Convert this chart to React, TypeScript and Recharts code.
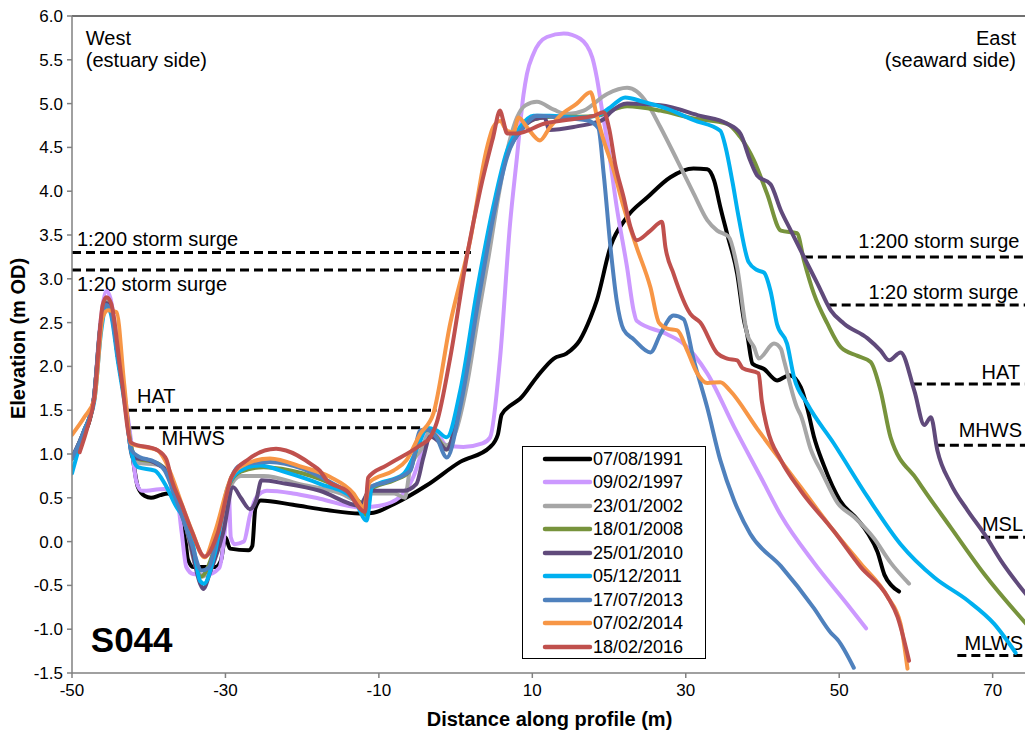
import React from 'react';
import {
  LineChart,
  Line,
  XAxis,
  YAxis,
  ReferenceLine,
  ReferenceDot,
  Legend,
} from 'recharts';

type Pt = [number, number];

const FONT = "'Liberation Sans', Arial, Helvetica, sans-serif";

// Axis ticks
const xTicks = [-50, -30, -10, 10, 30, 50, 70];
const yTicks = [-1.5, -1, -0.5, 0, 0.5, 1, 1.5, 2, 2.5, 3, 3.5, 4, 4.5, 5, 5.5, 6];

// Survey profiles: [distance along profile (m), elevation (m OD)]
const s1991: Pt[] = [
  [-50, 0.95], [-48.5, 1.2], [-47.2, 1.6], [-46.3, 2.4], [-45.6, 2.75], [-45.0, 2.7], [-44.0, 2.1],
  [-43.0, 1.55], [-42.3, 1.1], [-41.4, 0.62], [-40.5, 0.52], [-39.7, 0.5], [-38.5, 0.53], [-37.5, 0.55],
  [-36.3, 0.45], [-35.4, 0.2], [-34.9, -0.2], [-34.2, -0.29], [-31.3, -0.29], [-30.6, -0.22], [-30.0, 0.05],
  [-29.4, -0.08], [-27.0, -0.1], [-26.5, -0.05], [-26.1, 0.38], [-25.4, 0.47], [-21.2, 0.42], [-16.8, 0.36],
  [-12.5, 0.32], [-10.7, 0.33], [-8.0, 0.43], [-3.8, 0.64], [0.6, 0.91], [4.5, 1.08], [5.5, 1.22], [6.0, 1.45],
  [7.1, 1.55], [8.4, 1.63], [10.6, 1.88], [12.8, 2.09], [14.5, 2.15], [16.2, 2.3], [17.6, 2.56], [18.4, 2.75],
  [20.2, 3.37], [22.3, 3.7], [25.0, 3.93], [28.0, 4.16], [31.0, 4.26], [32.8, 4.25], [33.7, 4.12], [34.5, 3.82],
  [35.4, 3.51], [36.7, 3.06], [37.6, 2.52], [38.0, 2.37], [38.7, 2.03], [40.2, 1.97], [41.9, 1.84], [43.5, 1.9],
  [45.0, 1.76], [45.85, 1.52], [46.7, 1.2], [48.0, 0.87], [50.1, 0.47], [52.4, 0.25], [53.7, 0.1], [55.0, -0.12],
  [55.9, -0.38], [56.8, -0.5], [57.8, -0.57],
];

const s1997: Pt[] = [
  [-50, 0.95], [-48.5, 1.25], [-47.2, 1.62], [-46.3, 2.5], [-45.5, 2.86], [-45.0, 2.78], [-44.0, 2.2],
  [-43.0, 1.6], [-42.3, 1.15], [-41.6, 0.68], [-40.9, 0.58], [-38.0, 0.6], [-37.0, 0.6], [-36.3, 0.5],
  [-35.7, 0.1], [-35.1, -0.29], [-34.2, -0.37], [-32.5, -0.38], [-30.8, -0.3], [-30.0, 0.2], [-29.6, 0.64],
  [-29.3, 0.05], [-28.8, -0.03], [-27.6, 0.0], [-26.8, 0.3], [-26.0, 0.5], [-24.6, 0.58], [-21.2, 0.55],
  [-17.7, 0.49], [-12.5, 0.39], [-9.9, 0.41], [-7.25, 0.51], [-5.5, 0.74], [-4.2, 1.08], [-3.5, 1.28],
  [-2.5, 1.25], [-1.2, 1.1], [1.0, 1.08], [3.5, 1.12], [4.5, 1.19], [5.8, 2.1], [7.1, 3.63], [8.0, 4.39],
  [8.85, 5.1], [9.3, 5.34], [10.15, 5.57], [11.9, 5.76], [14.1, 5.8], [16.25, 5.74], [17.8, 5.53], [18.4, 5.3],
  [19.1, 4.92], [19.9, 4.5], [21.0, 3.82], [22.35, 3.13], [23.2, 2.64], [23.6, 2.52], [27.5, 2.37], [29.7, 2.26],
  [32.8, 1.92], [36.3, 1.31], [39.75, 0.74], [42.4, 0.3], [46.7, -0.24], [51.1, -0.72], [53.5, -0.99],
];

const s2002: Pt[] = [
  [-50, 0.95], [-48.5, 1.25], [-47.2, 1.6], [-46.3, 2.45], [-45.6, 2.75], [-45.0, 2.7], [-44.0, 2.1],
  [-43.0, 1.55], [-42.3, 1.1], [-41.5, 0.9], [-39.0, 0.88], [-37.5, 0.8], [-35.5, 0.3], [-33.8, -0.3],
  [-33.0, -0.4], [-32.0, -0.3], [-31.0, 0.0], [-29.5, 0.6], [-28.0, 0.75], [-25.0, 0.75], [-20.0, 0.65],
  [-15.0, 0.55], [-12.3, 0.45], [-11.3, 0.55], [-8.0, 0.55], [-6.6, 0.5], [-5.9, 0.85], [-4.5, 1.05],
  [-3.3, 1.25], [-1.2, 1.1], [0.0, 1.25], [1.5, 1.8], [3.0, 2.6], [4.3, 3.25], [5.6, 3.95], [6.7, 4.45],
  [8.0, 4.84], [9.1, 4.98], [10.6, 5.02], [12.8, 4.93], [14.5, 4.88], [16.7, 4.92], [19.75, 5.11], [22.35, 5.18],
  [23.6, 5.14], [25.0, 5.0], [26.7, 4.73], [28.9, 4.35], [31.05, 3.97], [32.8, 3.67], [34.1, 3.55], [35.6, 3.48],
  [36.7, 3.13], [38.0, 2.37], [38.9, 2.22], [39.5, 2.09], [41.5, 2.26], [42.4, 2.2], [42.8, 2.07], [44.5, 1.53],
  [45.0, 1.44], [46.3, 1.05], [47.8, 0.78], [49.8, 0.44], [51.95, 0.28], [54.5, 0.04], [56.7, -0.24], [59.1, -0.48],
];

const s2008: Pt[] = [
  [-50, 0.95], [-48.5, 1.25], [-47.2, 1.6], [-46.3, 2.45], [-45.6, 2.72], [-45.0, 2.68], [-44.0, 2.1],
  [-43.0, 1.55], [-42.3, 1.08], [-41.5, 0.95], [-39.0, 0.9], [-37.7, 0.8], [-36.5, 0.5], [-34.5, 0.0],
  [-33.2, -0.4], [-31.5, -0.1], [-29.5, 0.65], [-28.0, 0.8], [-25.0, 0.85], [-20.0, 0.78], [-16.0, 0.65],
  [-12.5, 0.45], [-11.6, 0.3], [-11.0, 0.6], [-8.0, 0.7], [-6.0, 0.8], [-4.6, 1.2], [-3.5, 1.28], [-2.5, 1.2],
  [-1.2, 1.05], [0.6, 1.6], [2.8, 2.8], [4.9, 3.75], [6.7, 4.42], [8.4, 4.7], [10.2, 4.82], [12.5, 4.85],
  [16.0, 4.85], [18.5, 4.86], [20.2, 4.92], [22.35, 4.97], [26.7, 4.92], [31.05, 4.83], [35.4, 4.77],
  [37.1, 4.62], [38.9, 4.35], [40.6, 3.97], [42.4, 3.55], [44.5, 3.52], [45.4, 3.21], [46.7, 2.83],
  [48.45, 2.49], [50.2, 2.22], [52.4, 2.12], [54.1, 2.05], [55.4, 1.72], [56.7, 1.19], [60.2, 0.7],
  [64.55, 0.16], [68.9, -0.37], [75.0, -1.0],
];

const s2010: Pt[] = [
  [-50, 0.96], [-48.5, 1.25], [-47.2, 1.6], [-46.3, 2.45], [-45.6, 2.72], [-45.0, 2.68], [-44.0, 2.1],
  [-43.0, 1.55], [-42.1, 0.96], [-40.0, 0.93], [-38.6, 0.87], [-37.3, 0.78], [-36.0, 0.45], [-34.5, -0.05],
  [-33.3, -0.48], [-32.9, -0.54], [-32.0, -0.35], [-30.3, 0.1], [-29.0, 0.62], [-28.0, 0.5], [-26.8, 0.37],
  [-26.0, 0.47], [-25.3, 0.7], [-22.1, 0.66], [-17.7, 0.58], [-12.5, 0.41], [-11.2, 0.58], [-6.8, 0.58],
  [-5.1, 0.66], [-4.2, 0.96], [-3.3, 1.2], [-2.3, 1.15], [-1.2, 1.05], [0.6, 1.6], [2.8, 2.8], [4.9, 3.75],
  [6.7, 4.42], [8.4, 4.68], [10.2, 4.82], [11.6, 4.84], [12.2, 4.7], [15.8, 4.74], [18.0, 4.78], [19.3, 4.82],
  [20.2, 4.9], [22.35, 5.0], [26.7, 4.98], [31.9, 4.86], [35.4, 4.77], [37.1, 4.66], [38.4, 4.35], [39.3, 4.18],
  [41.05, 4.08], [42.4, 3.78], [43.7, 3.55], [45.4, 3.25], [47.2, 2.94], [48.9, 2.64], [50.6, 2.49],
  [53.7, 2.32], [55.4, 2.18], [56.5, 2.07], [58.0, 2.16], [59.8, 1.72], [61.1, 1.33], [61.95, 1.42],
  [62.8, 1.04], [64.55, 0.66], [66.7, 0.36], [68.9, 0.09], [71.1, -0.22], [75.0, -0.67],
];

const s2011: Pt[] = [
  [-50, 0.78], [-48.4, 1.27], [-47.1, 1.6], [-46.2, 2.4], [-45.5, 2.68], [-45.0, 2.62], [-44.0, 2.05],
  [-43.0, 1.5], [-42.3, 1.04], [-41.4, 0.85], [-39.2, 0.81], [-37.9, 0.66], [-36.6, 0.43], [-34.4, 0.05],
  [-33.3, -0.45], [-32.8, -0.48], [-31.4, -0.14], [-29.7, 0.62], [-28.1, 0.81], [-25.5, 0.87], [-22.1, 0.79],
  [-17.7, 0.66], [-13.3, 0.49], [-11.6, 0.24], [-10.9, 0.62], [-6.8, 0.77], [-4.6, 1.15], [-3.8, 1.3],
  [-2.5, 1.27], [-1.15, 1.19], [0.6, 1.72], [2.8, 2.87], [4.9, 3.82], [6.7, 4.46], [8.4, 4.73], [10.15, 4.86],
  [12.3, 4.86], [15.8, 4.84], [18.4, 4.86], [20.2, 4.96], [22.1, 5.07], [24.5, 5.02], [27.6, 4.94],
  [31.05, 4.81], [34.5, 4.69], [35.2, 4.5], [36.1, 4.1], [36.9, 3.7], [38.2, 3.19], [39.3, 3.1], [40.2, 3.07],
  [41.05, 2.86], [41.9, 2.48], [43.2, 2.26], [44.1, 1.88], [45.85, 1.57], [49.3, 1.12], [53.7, 0.51],
  [58.0, -0.03], [62.4, -0.41], [66.7, -0.67], [70.2, -0.94], [73.0, -1.27],
];

const s2013: Pt[] = [
  [-50, 0.95], [-48.5, 1.25], [-47.2, 1.6], [-46.3, 2.45], [-45.6, 2.7], [-45.0, 2.65], [-44.0, 2.1],
  [-43.0, 1.55], [-42.3, 1.05], [-41.3, 0.97], [-39.2, 0.91], [-37.9, 0.81], [-36.5, 0.5], [-34.5, 0.0],
  [-33.1, -0.33], [-32.2, -0.3], [-31.0, 0.1], [-29.2, 0.74], [-28.1, 0.87], [-24.2, 0.91], [-19.9, 0.83],
  [-16.8, 0.7], [-13.3, 0.51], [-12.0, 0.39], [-11.2, 0.62], [-9.0, 0.68], [-5.9, 0.81], [-4.6, 1.27],
  [-3.8, 1.28], [-2.5, 1.19], [-1.15, 0.96], [0.6, 1.53], [3.2, 2.87], [4.9, 3.7], [6.7, 4.39], [8.85, 4.73],
  [10.6, 4.86], [13.6, 4.84], [17.1, 4.81], [18.6, 4.72], [19.3, 4.2], [20.2, 3.35], [21.0, 2.75], [21.9, 2.42],
  [23.2, 2.31], [25.4, 2.16], [26.7, 2.37], [28.4, 2.58], [29.7, 2.54], [31.05, 2.07], [32.8, 1.53],
  [34.5, 0.93], [36.3, 0.47], [38.4, 0.09], [42.4, -0.28], [46.7, -0.76], [48.9, -1.04], [49.8, -1.12],
  [51.9, -1.44],
];

const s2014: Pt[] = [
  [-50, 1.22], [-48.4, 1.42], [-47.1, 1.62], [-46.0, 2.56], [-45.3, 2.64], [-44.2, 2.62], [-43.2, 1.8],
  [-42.3, 1.12], [-38.8, 1.04], [-37.9, 0.93], [-37.0, 0.75], [-35.7, 0.43], [-34.4, 0.13], [-32.7, -0.18],
  [-31.4, 0.1], [-29.2, 0.74], [-28.1, 0.85], [-24.2, 0.95], [-19.9, 0.85], [-16.4, 0.74], [-13.3, 0.55],
  [-12.0, 0.39], [-11.2, 0.68], [-8.1, 0.81], [-6.4, 0.93], [-4.6, 1.23], [-2.9, 1.46], [-0.7, 2.49],
  [1.9, 3.44], [4.1, 4.5], [4.9, 4.73], [5.8, 4.8], [6.7, 4.69], [7.55, 4.67], [8.2, 4.84], [9.3, 4.73],
  [11.0, 4.58], [12.3, 4.73], [13.6, 4.86], [15.8, 5.0], [17.6, 5.13], [18.4, 4.86], [19.3, 4.58], [20.6, 4.24],
  [21.9, 3.82], [23.6, 3.36], [25.4, 2.9], [26.5, 2.5], [27.6, 2.43], [28.9, 2.41], [30.2, 2.18], [31.5, 1.92],
  [32.8, 1.81], [34.5, 1.82], [35.8, 1.72], [39.3, 1.29], [42.0, 0.97], [45.0, 0.62], [49.3, 0.12],
  [52.8, -0.25], [56.3, -0.63], [58.0, -0.94], [58.9, -1.45],
];

const s2016: Pt[] = [
  [-49.0, 1.02], [-48.0, 1.3], [-47.1, 1.63], [-46.0, 2.7], [-45.5, 2.79], [-44.9, 2.72], [-43.6, 1.9],
  [-42.3, 1.13], [-38.8, 1.04], [-37.7, 0.94], [-37.0, 0.7], [-35.7, 0.42], [-34.4, 0.12], [-32.7, -0.17],
  [-31.0, 0.1], [-29.2, 0.74], [-27.0, 0.94], [-23.4, 1.06], [-22.1, 1.04], [-18.6, 0.87], [-17.7, 0.81],
  [-16.8, 0.7], [-14.2, 0.58], [-11.8, 0.34], [-11.4, 0.73], [-9.0, 0.87], [-4.6, 1.1], [-3.3, 1.19],
  [-2.45, 1.36], [-0.7, 2.1], [1.46, 3.25], [3.2, 4.01], [4.9, 4.62], [5.8, 4.92], [6.2, 4.81], [6.7, 4.66],
  [8.0, 4.66], [11.5, 4.77], [15.8, 4.83], [18.0, 4.86], [19.3, 4.9], [20.0, 4.72], [20.8, 4.31], [21.9, 3.93],
  [22.8, 3.59], [23.6, 3.44], [25.4, 3.55], [26.9, 3.65], [27.35, 3.36], [28.4, 3.06], [30.6, 2.6], [31.9, 2.5],
  [34.1, 2.15], [35.4, 2.09], [36.7, 2.07], [37.4, 1.98], [39.5, 1.92], [39.9, 1.61], [40.6, 1.3], [42.4, 0.93],
  [45.0, 0.58], [49.3, 0.12], [52.8, -0.29], [56.3, -0.63], [57.6, -0.86], [59.1, -1.36],
];

const seriesList = [
  { name: '07/08/1991', color: '#000000', pts: s1991 },
  { name: '09/02/1997', color: '#CC99FF', pts: s1997 },
  { name: '23/01/2002', color: '#A6A6A6', pts: s2002 },
  { name: '18/01/2008', color: '#77933C', pts: s2008 },
  { name: '25/01/2010', color: '#604A7B', pts: s2010 },
  { name: '05/12/2011', color: '#00B0F0', pts: s2011 },
  { name: '17/07/2013', color: '#4F81BD', pts: s2013 },
  { name: '07/02/2014', color: '#F79646', pts: s2014 },
  { name: '18/02/2016', color: '#C0504D', pts: s2016 },
];

// Water levels and surge levels (m OD) on each side of the profile
const westLevels = [
  { id: 'w200', label: '1:200 storm surge', y: 3.3, from: -50, to: 2 },
  { id: 'w20', label: '1:20 storm surge', y: 3.1, from: -50, to: 2 },
  { id: 'wHAT', label: 'HAT', y: 1.5, from: -42.7, to: -2.5 },
  { id: 'wMHWS', label: 'MHWS', y: 1.3, from: -42.3, to: -4.0 },
];

const eastLevels = [
  { id: 'e200', label: '1:200 storm surge', y: 3.25, from: 45.4, to: 75 },
  { id: 'e20', label: '1:20 storm surge', y: 2.7, from: 48.5, to: 75 },
  { id: 'eHAT', label: 'HAT', y: 1.8, from: 59.6, to: 75 },
  { id: 'eMHWS', label: 'MHWS', y: 1.1, from: 62.6, to: 75 },
  { id: 'eMSL', label: 'MSL', y: 0.05, from: 68.5, to: 75 },
  { id: 'eMLWS', label: 'MLWS', y: -1.3, from: 65.4, to: 75 },
];

// Text placement relative to each dashed segment (pixels)
const labelOffsets: Record<string, { dx: number; dy: number }> = {
  w200: { dx: 5, dy: -6.5 },
  w20: { dx: 5, dy: 21 },
  wHAT: { dx: 9, dy: -7.5 },
  wMHWS: { dx: 30.5, dy: 17.5 },
  e200: { dx: -11.5, dy: -9 },
  e20: { dx: -12.5, dy: -6 },
  eHAT: { dx: -11, dy: -5 },
  eMHWS: { dx: -9, dy: -8 },
  eMSL: { dx: -8, dy: -6 },
  eMLWS: { dx: -8, dy: -5.5 },
};

const toData = (pts: Pt[]) => pts.map(([x, y]) => ({ x, y }));

const segLabel = (text: string, side: 'start' | 'end', dx: number, dy: number) => (props: any) => {
  const vb = props.viewBox || { x: 0, y: 0, width: 0, height: 0 };
  const x = side === 'start' ? vb.x + dx : vb.x + vb.width + dx;
  return (
    <text x={x} y={vb.y + dy} textAnchor={side} fontFamily={FONT} fontSize={20} fill="#000">
      {text}
    </text>
  );
};

const noteLabel = (lines: string[], anchor: 'start' | 'end', size: number, bold = false) => (props: any) => {
  const vb = props.viewBox || { x: 0, y: 0 };
  return (
    <text
      x={vb.x}
      y={vb.y}
      textAnchor={anchor}
      fontFamily={FONT}
      fontSize={size}
      fontWeight={bold ? 'bold' : 'normal'}
      fill="#000"
    >
      {lines.map((l, i) => (
        <tspan key={i} x={vb.x} dy={i === 0 ? 0 : 22}>
          {l}
        </tspan>
      ))}
    </text>
  );
};

function LegendBox() {
  return (
    <div
      style={{
        width: 184,
        height: 213,
        boxSizing: 'border-box',
        border: '1.5px solid #000',
        background: '#fff',
        fontFamily: FONT,
        fontSize: 18,
        color: '#000',
      }}
    >
      {seriesList.map((s) => (
        <div key={s.name} style={{ display: 'flex', alignItems: 'center', height: 23.5 }}>
          <svg width={70} height={10} style={{ flex: 'none' }}>
            <line x1={22} x2={67} y1={5} y2={5} stroke={s.color} strokeWidth={4.5} strokeLinecap="round" />
          </svg>
          <span style={{ lineHeight: 1, whiteSpace: 'nowrap' }}>{s.name}</span>
        </div>
      ))}
    </div>
  );
}

const xTitle = (props: any) => {
  const vb = props.viewBox;
  return (
    <text
      x={vb.x + vb.width / 2 - 2}
      y={vb.y + 46}
      textAnchor="middle"
      dominantBaseline="central"
      fontFamily={FONT}
      fontSize={20}
      fontWeight="bold"
      fill="#000"
    >
      Distance along profile (m)
    </text>
  );
};

const yTitle = (props: any) => {
  const vb = props.viewBox;
  const cx = 18;
  const cy = vb.y + vb.height / 2 - 6;
  return (
    <text
      x={cx}
      y={cy}
      transform={`rotate(-90 ${cx} ${cy})`}
      textAnchor="middle"
      dominantBaseline="central"
      fontFamily={FONT}
      fontSize={20}
      fontWeight="bold"
      fill="#000"
    >
      Elevation (m OD)
    </text>
  );
};

export default function App() {
  return (
    <div style={{ position: 'absolute', left: 0, top: 0, width: 1025, height: 737, overflow: 'hidden', background: '#fff' }}>
      <LineChart width={1031} height={737} margin={{ top: 16, right: 0, left: 0, bottom: 0 }}>
        <XAxis
          type="number"
          dataKey="x"
          domain={[-50, 75]}
          ticks={xTicks}
          interval={0}
          allowDataOverflow
          height={64}
          tickSize={5}
          tickMargin={6}
          tick={{ fontSize: 17, fill: '#000', fontFamily: FONT }}
          tickLine={{ stroke: '#808080', strokeWidth: 1.5 }}
          axisLine={{ stroke: '#808080', strokeWidth: 1.5 }}
          label={xTitle}
        />
        <YAxis
          type="number"
          domain={[-1.5, 6]}
          ticks={yTicks}
          interval={0}
          allowDataOverflow
          width={72}
          tickSize={5}
          tickMargin={4}
          tickFormatter={(v: number) => v.toFixed(1)}
          tick={{ fontSize: 17, fill: '#000', fontFamily: FONT }}
          tickLine={{ stroke: '#808080', strokeWidth: 1.5 }}
          axisLine={{ stroke: '#808080', strokeWidth: 1.5 }}
          label={yTitle}
        />

        {/* plot frame */}
        <ReferenceLine y={6} stroke="#404040" strokeWidth={1.5} />
        <ReferenceLine x={75} stroke="#404040" strokeWidth={1.5} />

        {westLevels.map((lv) => (
          <ReferenceLine
            key={lv.id}
            segment={[{ x: lv.from, y: lv.y }, { x: lv.to, y: lv.y }]}
            stroke="#000"
            strokeWidth={3}
            strokeDasharray="9 5"
            label={segLabel(lv.label, 'start', labelOffsets[lv.id].dx, labelOffsets[lv.id].dy)}
          />
        ))}
        {eastLevels.map((lv) => (
          <ReferenceLine
            key={lv.id}
            segment={[{ x: lv.from, y: lv.y }, { x: lv.to, y: lv.y }]}
            stroke="#000"
            strokeWidth={3}
            strokeDasharray="9 5"
            label={segLabel(lv.label, 'end', labelOffsets[lv.id].dx, labelOffsets[lv.id].dy)}
          />
        ))}

        {seriesList.map((s) => (
          <Line
            key={s.name}
            name={s.name}
            data={toData(s.pts)}
            dataKey="y"
            type="monotone"
            stroke={s.color}
            strokeWidth={4}
            strokeLinejoin="round"
            strokeLinecap="round"
            dot={false}
            activeDot={false}
            isAnimationActive={false}
          />
        ))}

        <ReferenceDot x={-48.2} y={5.67} r={0} fill="none" stroke="none" label={noteLabel(['West', '(estuary side)'], 'start', 20)} />
        <ReferenceDot x={73.05} y={5.67} r={0} fill="none" stroke="none" label={noteLabel(['East', '(seaward side)'], 'end', 20)} />
        <ReferenceDot x={-47.55} y={-1.257} r={0} fill="none" stroke="none" label={noteLabel(['S044'], 'start', 35, true)} />

        <Legend
          layout="vertical"
          align="center"
          verticalAlign="middle"
          content={() => <LegendBox />}
          wrapperStyle={{ left: 522, top: 446, width: 184, height: 213 }}
        />
      </LineChart>
    </div>
  );
}
